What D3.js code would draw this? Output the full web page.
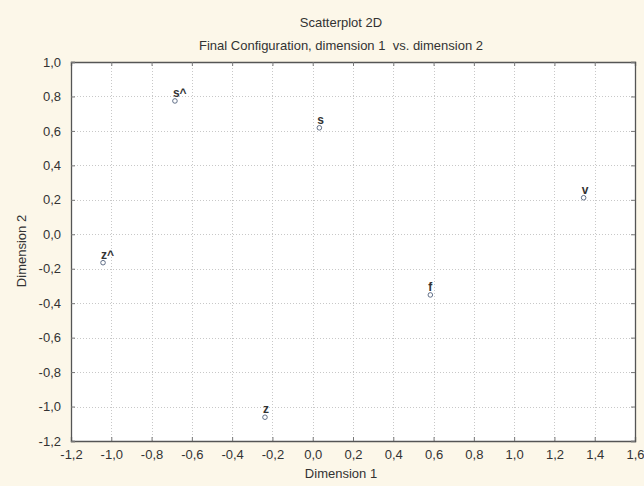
<!DOCTYPE html>
<html>
<head>
<meta charset="utf-8">
<script src="https://cdn.jsdelivr.net/npm/d3@7"></script>
<style>
  html, body { margin: 0; padding: 0; background: #fcf7e9; }
  svg { display: block; font-family: "Liberation Sans", Arial, sans-serif; }
</style>
</head>
<body>
<svg id="chart" width="644" height="486"></svg>
<script>
// points of the final configuration
const labels = ["s^", "s", "v", "z^", "f", "z"];
const dim1 = [-0.684, 0.033, 1.345, -1.041, 0.584, -0.237];
const dim2 = [0.774, 0.618, 0.212, -0.165, -0.352, -1.062];

const xTicks = [-1.2, -1.0, -0.8, -0.6, -0.4, -0.2, 0.0, 0.2, 0.4, 0.6, 0.8, 1.0, 1.2, 1.4, 1.6];
const yTicks = [-1.2, -1.0, -0.8, -0.6, -0.4, -0.2, 0.0, 0.2, 0.4, 0.6, 0.8, 1.0];

const W = 644, H = 486;
const m = { left: 71, right: 9, top: 62, bottom: 45 };

const svg = d3.select("#chart");

const x = d3.scaleLinear().domain([-1.2, 1.6]).range([m.left, W - m.right]);
const y = d3.scaleLinear().domain([-1.2, 1.0]).range([H - m.bottom, m.top]);

const fmt = v => d3.format(".1f")(v).replace(".", ",").replace("\u2212", "-");

// plot area
svg.append("rect")
  .attr("x", m.left).attr("y", m.top)
  .attr("width", x(1.6) - x(-1.2)).attr("height", y(-1.2) - y(1.0))
  .attr("fill", "#fff");

// grid
const grid = svg.append("g").attr("stroke", "#c8c8c8").attr("stroke-dasharray", "1,2").attr("stroke-width", 1);
xTicks.slice(1, -1).forEach(t => {
  grid.append("line").attr("x1", Math.round(x(t)) + 0.5).attr("x2", Math.round(x(t)) + 0.5)
    .attr("y1", y(1.0)).attr("y2", y(-1.2));
});
yTicks.slice(1, -1).forEach(t => {
  grid.append("line").attr("y1", Math.round(y(t)) + 0.5).attr("y2", Math.round(y(t)) + 0.5)
    .attr("x1", x(-1.2)).attr("x2", x(1.6));
});

// axes (ticks point inward)
const xAxis = svg.append("g").attr("transform", `translate(0,${y(-1.2)})`)
  .call(d3.axisBottom(x).tickValues(xTicks).tickSize(-4).tickPadding(9).tickFormat(fmt));
const xTop = svg.append("g").attr("transform", `translate(0,${y(1.0)})`)
  .call(d3.axisTop(x).tickValues(xTicks).tickSize(-4).tickFormat(""));
const yAxis = svg.append("g").attr("transform", `translate(${x(-1.2)},0)`)
  .call(d3.axisLeft(y).tickValues(yTicks).tickSize(-4).tickPadding(10).tickFormat(fmt));
const yRight = svg.append("g").attr("transform", `translate(${x(1.6)},0)`)
  .call(d3.axisRight(y).tickValues(yTicks).tickSize(-4).tickFormat(""));

[xAxis, xTop, yAxis, yRight].forEach(g => {
  g.select(".domain").attr("stroke", "#555").attr("stroke-width", 1.3);
  g.selectAll(".tick line").attr("stroke", "#777");
  g.selectAll("text").attr("fill", "#333").style("font-size", "13px")
    .style("font-family", "'Liberation Sans', Arial, sans-serif");
});

// points
const pts = svg.append("g");
labels.forEach((lab, i) => {
  pts.append("circle")
    .attr("cx", x(dim1[i])).attr("cy", y(dim2[i])).attr("r", 2.3)
    .attr("fill", "none").attr("stroke", "#50607a").attr("stroke-width", 0.9);
  pts.append("text")
    .attr("x", x(dim1[i]) - 2).attr("y", y(dim2[i]) - 4)
    .attr("fill", "#333").style("font-size", "12px").style("font-weight", "bold")
    .text(lab);
});

// titles
svg.append("text").attr("x", 341).attr("y", 27).attr("text-anchor", "middle")
  .attr("fill", "#333").style("font-size", "13px").text("Scatterplot 2D");
svg.append("text").attr("x", 341).attr("y", 50).attr("text-anchor", "middle")
  .attr("fill", "#333").style("font-size", "13px")
  .text("Final Configuration, dimension 1  vs. dimension 2").attr("xml:space", "preserve");
svg.append("text").attr("x", 341).attr("y", 478).attr("text-anchor", "middle")
  .attr("fill", "#333").style("font-size", "13px").text("Dimension 1");
svg.append("text").attr("transform", "translate(26,251) rotate(-90)").attr("text-anchor", "middle")
  .attr("fill", "#333").style("font-size", "13px").text("Dimension 2");
</script>
</body>
</html>
